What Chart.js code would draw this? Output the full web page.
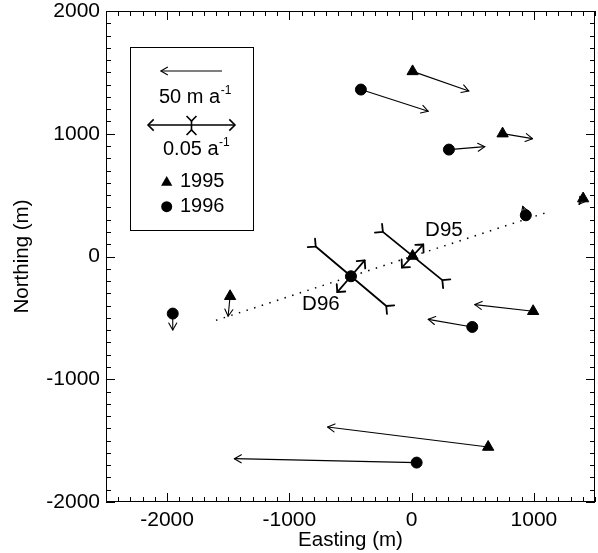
<!DOCTYPE html>
<html>
<head>
<meta charset="utf-8">
<script src="https://cdn.jsdelivr.net/npm/chart.js@4/dist/chart.umd.min.js"></script>
<style>
  body { margin: 0; background: #fff; }
  canvas { display: block; }
</style>
</head>
<body>
<canvas id="strain-chart" width="598" height="553"></canvas>
<script>
// stake positions (m) and surface velocities (m a-1)
const east95 = [8, 744, 1403, 8, -1485, 994, 626];
const north95 = [1508, 1001, 472, 4, -324, -446, -1552];
const vEast95 = [46.0, 24.5, -3.3, 0, -1.6, -47.7, -131.3];
const vNorth95 = [-16.0, -4.1, -4.7, 0, -16.3, 5.4, 16.3];

const east96 = [-415, 305, 934, -496, -1954, 496, 41];
const north96 = [1360, 871, 336, -161, -465, -574, -1679];
const vEast96 = [55.1, 29.4, -2.5, 0, 0, -36.0, -149.1];
const vNorth96 = [-17.7, 2.4, 7.3, 0, -13.3, 6.2, 3.2];

// principal strain rates (a-1) at the two strain diamonds
const strainSites = ["D95", "D96"];
const strainEast = [8, -496];
const strainNorth = [4, -161];
const extRate = [0.018, 0.024];
const compRate = [-0.044, -0.053];
const extAzimuth = [47, 49];    // degrees counter-clockwise from east
const compAzimuth = [141, 140];
const siteLabelEast = [264, -742];
const siteLabelNorth = [213, -389];

// dotted flow line
const flowEast = [-1600, 1090];
const flowNorth = [-520, 354];

const xTicks = [-2000, -1000, 0, 1000];
const yTicks = [-2000, -1000, 0, 1000, 2000];

const VEL_SCALE = 10;      // m of map per m a-1
const STRAIN_SCALE = 7110; // m of map per a-1 (half length)
const legendVel = 50;
const legendStrain = 0.05;

const FONT = "'Liberation Sans', Arial, Helvetica, sans-serif";
Chart.defaults.font.family = FONT;
Chart.defaults.font.size = 20.5;
Chart.defaults.color = "#000";

function toPoints(xs, ys) {
    return xs.map((x, i) => ({ x: x, y: ys[i] }));
}

function arrowHead(ctx, x0, y0, x1, y1, len, ang) {
    const a = Math.atan2(y1 - y0, x1 - x0);
    ctx.beginPath();
    ctx.moveTo(x1 - len * Math.cos(a - ang), y1 - len * Math.sin(a - ang));
    ctx.lineTo(x1, y1);
    ctx.lineTo(x1 - len * Math.cos(a + ang), y1 - len * Math.sin(a + ang));
    ctx.stroke();
}

function arrow(ctx, x0, y0, x1, y1, len, ang) {
    ctx.beginPath();
    ctx.moveTo(x0, y0);
    ctx.lineTo(x1, y1);
    ctx.stroke();
    arrowHead(ctx, x0, y0, x1, y1, len, ang);
}

// inward fork at the end of a compression axis
function fork(ctx, cx, cy, px, py, len) {
    const dx = px - cx, dy = py - cy;
    const d = Math.hypot(dx, dy) || 1;
    arrowHead(ctx, px + dx / d * 10, py + dy / d * 10, px, py, len, Math.PI / 4);
}

function superText(ctx, text, sup, x, y) {
    ctx.font = "20px " + FONT;
    ctx.textAlign = "left";
    ctx.textBaseline = "middle";
    ctx.fillText(text, x, y);
    const w = ctx.measureText(text).width;
    ctx.font = "12px " + FONT;
    ctx.fillText(sup, x + w + 0.5, y - 6);
}

const vectors = {
    id: "vectors",
    beforeDatasetsDraw(chart) {
        const ctx = chart.ctx;
        const xs = chart.scales.x, ys = chart.scales.y;
        ctx.save();
        ctx.strokeStyle = "#000";
        ctx.lineCap = "round";
        ctx.lineJoin = "round";

        // velocity arrows
        ctx.lineWidth = 1.1;
        const sets = [[east95, north95, vEast95, vNorth95], [east96, north96, vEast96, vNorth96]];
        sets.forEach(([ex, nx, ve, vn]) => {
            ex.forEach((e, i) => {
                if (ve[i] === 0 && vn[i] === 0) return;
                const x0 = xs.getPixelForValue(e), y0 = ys.getPixelForValue(nx[i]);
                const x1 = xs.getPixelForValue(e + ve[i] * VEL_SCALE);
                const y1 = ys.getPixelForValue(nx[i] + vn[i] * VEL_SCALE);
                arrow(ctx, x0, y0, x1, y1, 8, Math.PI / 6);
            });
        });

        // strain crosses
        ctx.lineWidth = 1.8;
        strainSites.forEach((s, i) => {
            const cx = xs.getPixelForValue(strainEast[i]), cy = ys.getPixelForValue(strainNorth[i]);
            const ea = extAzimuth[i] * Math.PI / 180, ca = compAzimuth[i] * Math.PI / 180;
            const el = extRate[i] * STRAIN_SCALE, cl = Math.abs(compRate[i]) * STRAIN_SCALE;
            const e1 = [xs.getPixelForValue(strainEast[i] + el * Math.cos(ea)), ys.getPixelForValue(strainNorth[i] + el * Math.sin(ea))];
            const e2 = [xs.getPixelForValue(strainEast[i] - el * Math.cos(ea)), ys.getPixelForValue(strainNorth[i] - el * Math.sin(ea))];
            arrow(ctx, cx, cy, e1[0], e1[1], 8, Math.PI / 4);
            arrow(ctx, cx, cy, e2[0], e2[1], 8, Math.PI / 4);
            const c1 = [xs.getPixelForValue(strainEast[i] + cl * Math.cos(ca)), ys.getPixelForValue(strainNorth[i] + cl * Math.sin(ca))];
            const c2 = [xs.getPixelForValue(strainEast[i] - cl * Math.cos(ca)), ys.getPixelForValue(strainNorth[i] - cl * Math.sin(ca))];
            ctx.beginPath();
            ctx.moveTo(c1[0], c1[1]);
            ctx.lineTo(c2[0], c2[1]);
            ctx.stroke();
            fork(ctx, cx, cy, c1[0], c1[1], 8);
            fork(ctx, cx, cy, c2[0], c2[1], 8);
        });

        // site labels
        ctx.fillStyle = "#000";
        ctx.font = "20.5px " + FONT;
        ctx.textAlign = "center";
        ctx.textBaseline = "middle";
        strainSites.forEach((s, i) => {
            ctx.fillText(s, xs.getPixelForValue(siteLabelEast[i]), ys.getPixelForValue(siteLabelNorth[i]));
        });
        ctx.restore();
    }
};

// box round the plot with inward ticks on all four sides
const frame = {
    id: "frame",
    afterDraw(chart) {
        const ctx = chart.ctx;
        const { left, right, top, bottom } = chart.chartArea;
        const xs = chart.scales.x, ys = chart.scales.y;
        ctx.save();
        ctx.strokeStyle = "#000";
        ctx.lineWidth = 1;
        ctx.strokeRect(left + 0.5, top + 0.5, right - left - 1, bottom - top - 1);
        ctx.beginPath();
        for (let v = xs.min; v <= xs.max; v += 100) {
            const p = Math.round(xs.getPixelForValue(v)) + 0.5;
            const len = v % 1000 === 0 ? 9 : 5;
            ctx.moveTo(p, bottom); ctx.lineTo(p, bottom - len);
            ctx.moveTo(p, top); ctx.lineTo(p, top + len);
        }
        for (let v = ys.min; v <= ys.max; v += 100) {
            const p = Math.round(ys.getPixelForValue(v)) + 0.5;
            const len = v % 1000 === 0 ? 9 : 5;
            ctx.moveTo(left, p); ctx.lineTo(left + len, p);
            ctx.moveTo(right, p); ctx.lineTo(right - len, p);
        }
        ctx.stroke();
        ctx.restore();
    }
};

const keyBox = {
    id: "keyBox",
    afterDraw(chart) {
        const ctx = chart.ctx;
        const xs = chart.scales.x;
        const ox = chart.chartArea.left, oy = chart.chartArea.top;
        const velPx = xs.getPixelForValue(legendVel * VEL_SCALE) - xs.getPixelForValue(0);
        const strainPx = xs.getPixelForValue(legendStrain * STRAIN_SCALE) - xs.getPixelForValue(0);
        ctx.save();
        ctx.strokeStyle = "#000";
        ctx.fillStyle = "#000";
        ctx.lineWidth = 1;
        ctx.strokeRect(ox + 24.5, oy + 36.5, 123, 183);

        ctx.lineWidth = 1.1;
        arrow(ctx, ox + 116, oy + 60, ox + 116 - velPx, oy + 60, 8, Math.PI / 6);
        superText(ctx, "50 m a", "-1", ox + 53, oy + 86);

        ctx.lineWidth = 1.6;
        const cx = ox + 85.5, cy = oy + 114;
        arrow(ctx, cx, cy, cx - strainPx, cy, 8, Math.PI / 4);
        arrow(ctx, cx, cy, cx + strainPx, cy, 8, Math.PI / 4);
        ctx.beginPath();
        ctx.moveTo(cx, cy - 4);
        ctx.lineTo(cx, cy + 5);
        ctx.stroke();
        fork(ctx, cx, cy, cx, cy - 4, 7);
        fork(ctx, cx, cy, cx, cy + 5, 7);
        superText(ctx, "0.05 a", "-1", ox + 57, oy + 138);

        // year markers
        ctx.beginPath();
        const tx = ox + 60.7, ty = oy + 171.5, r = 6.5;
        ctx.moveTo(tx, ty - r);
        ctx.lineTo(tx + Math.sin(2 * Math.PI / 3) * r, ty - Math.cos(2 * Math.PI / 3) * r);
        ctx.lineTo(tx + Math.sin(4 * Math.PI / 3) * r, ty - Math.cos(4 * Math.PI / 3) * r);
        ctx.closePath();
        ctx.fill();
        ctx.beginPath();
        ctx.arc(ox + 60.7, oy + 195.7, 5.5, 0, Math.PI * 2);
        ctx.fill();
        ctx.font = "20px " + FONT;
        ctx.textAlign = "left";
        ctx.textBaseline = "middle";
        ctx.fillText("1995", ox + 74, oy + 170);
        ctx.fillText("1996", ox + 74, oy + 195);
        ctx.restore();
    }
};

const chart = new Chart(document.getElementById("strain-chart"), {
    type: "scatter",
    data: {
        datasets: [
            {
                label: "1995",
                data: toPoints(east95, north95),
                pointStyle: "triangle",
                pointRadius: 6.5,
                backgroundColor: "#000",
                borderColor: "#000",
                borderWidth: 1
            },
            {
                label: "1996",
                data: toPoints(east96, north96),
                pointStyle: "circle",
                pointRadius: 5.5,
                backgroundColor: "#000",
                borderColor: "#000",
                borderWidth: 1
            },
            {
                label: "flow line",
                type: "line",
                data: toPoints(flowEast, flowNorth),
                borderColor: "#000",
                borderWidth: 1.5,
                borderDash: [1.5, 6.5],
                pointRadius: 0,
                fill: false
            }
        ]
    },
    options: {
        responsive: false,
        animation: false,
        devicePixelRatio: 1,
        layout: { autoPadding: false, padding: { top: 11, right: 3, left: 0, bottom: 0 } },
        plugins: { legend: { display: false }, tooltip: { enabled: false } },
        scales: {
            x: {
                type: "linear",
                min: -2500,
                max: 1500,
                afterBuildTicks: (s) => { s.ticks = xTicks.map(v => ({ value: v })); },
                afterFit: (s) => { s.height = 51; s.paddingLeft = 0; s.paddingRight = 0; },
                ticks: { padding: 6, maxRotation: 0, autoSkip: false, font: { size: 21 }, callback: (v) => String(v) },
                grid: { display: false, drawTicks: false },
                border: { display: false },
                title: { display: true, text: "Easting (m)", padding: { top: 0, bottom: 0 } }
            },
            y: {
                type: "linear",
                min: -2000,
                max: 2000,
                afterBuildTicks: (s) => { s.ticks = yTicks.map(v => ({ value: v })); },
                afterFit: (s) => { s.width = 106; s.paddingTop = 0; s.paddingBottom = 0; },
                ticks: { padding: 6, autoSkip: false, font: { size: 21 }, callback: (v) => String(v) },
                grid: { display: false, drawTicks: false },
                border: { display: false },
                title: { display: true, text: "Northing (m)", padding: { top: 10, bottom: 0 } }
            }
        }
    },
    plugins: [vectors, frame, keyBox]
});
</script>
</body>
</html>
